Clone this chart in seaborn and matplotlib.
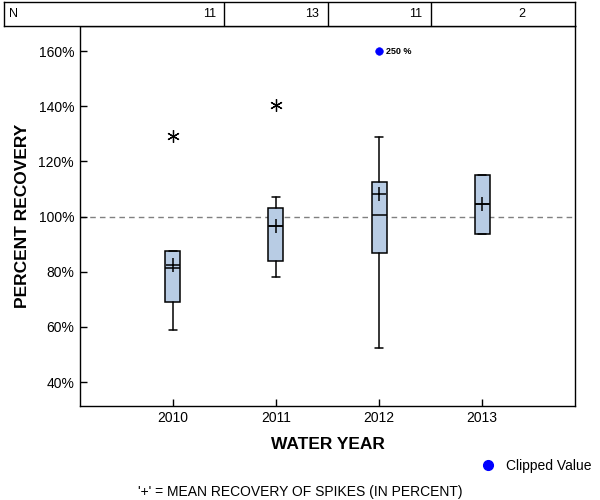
import numpy as np
import matplotlib
matplotlib.use("Agg")
import matplotlib.pyplot as plt
import seaborn as sns
from matplotlib.ticker import FuncFormatter
from matplotlib.lines import Line2D

sns.set_style("ticks")
plt.rcParams['font.family'] = ['Liberation Sans', 'DejaVu Sans']
plt.rcParams['text.color'] = 'black'
plt.rcParams['axes.labelcolor'] = 'black'

# Data
years = ["2010", "2011", "2012", "2013"]
n_counts = [11, 13, 11, 2]
q1 = [68.9, 83.8, 86.7, 93.5]
medians = [81.3, 96.4, 100.5, 104.4]
q3 = [87.4, 103.0, 112.4, 114.9]
whisker_lo = [58.7, 78.0, 52.2, 93.5]
whisker_hi = [87.6, 107.0, 128.9, 114.9]
means = [82.4, 96.4, 108.0, 104.4]
outliers = [[129.2], [140.3], [], []]
clipped_year = "2012"
clipped_value = 250
clipped_shown_at = 160

XLIM = (-0.9, 3.9)
YLIM = (31.3, 169.1)

fig = plt.figure(figsize=(6, 5), dpi=100)
ax = fig.add_axes([80 / 600, 1 - 406 / 500, 495 / 600, 380 / 500])

stats = []
for i, yr in enumerate(years):
    stats.append(dict(label=yr, q1=q1[i], med=medians[i], q3=q3[i],
                      whislo=whisker_lo[i], whishi=whisker_hi[i],
                      mean=means[i], fliers=outliers[i]))

pos = np.arange(len(years))
ax.bxp(stats, positions=pos, widths=0.145, patch_artist=True,
       showmeans=True, showfliers=True,
       boxprops=dict(facecolor="#b8cce4", edgecolor="black", linewidth=1.1),
       medianprops=dict(color="black", linewidth=1.1),
       whiskerprops=dict(color="black", linewidth=1.1),
       capprops=dict(color="black", linewidth=1.1),
       meanprops=dict(marker="+", markeredgecolor="black", markersize=10,
                      markeredgewidth=1.1),
       flierprops=dict(marker=(6, 2, 0), markeredgecolor="black",
                       markersize=9, markeredgewidth=0.9))

# reference line at 100%
ax.axhline(100, color="gray", linestyle=(0, (4, 3)), linewidth=1, zorder=0)

# clipped value
cx = years.index(clipped_year)
sns.scatterplot(x=[cx], y=[clipped_shown_at], color="blue", s=30,
                edgecolor="blue", ax=ax, zorder=5, legend=False)
ax.text(cx + 0.07, clipped_shown_at, f"{clipped_value} %", fontsize=6.5,
        va="center", ha="left", fontweight="bold")

ax.set_xlim(*XLIM)
ax.set_ylim(*YLIM)
ax.set_xticks(pos)
ax.set_xticklabels(years)
ax.set_yticks(np.arange(40, 161, 20))
ax.yaxis.set_major_formatter(FuncFormatter(lambda v, p: f"{v:.0f}%"))
ax.tick_params(axis="both", labelsize=10, direction="in", length=5,
               width=1, colors="black")
ax.tick_params(axis="y", pad=4.3)
ax.tick_params(axis="x", pad=3.4)
for s in ax.spines.values():
    s.set_linewidth(1)
    s.set_color("black")

ax.set_xlabel("WATER YEAR", fontsize=12.5, fontweight="bold", labelpad=8.5)
ax.set_ylabel("PERCENT RECOVERY", fontsize=12.5, fontweight="bold", labelpad=6)

# N table on top
tax = fig.add_axes([4 / 600, 1 - 26 / 500, 571 / 600, 24 / 500])
px = (XLIM[1] - XLIM[0]) / 495
tax.set_xlim(XLIM[0] - 76 * px, XLIM[1])
tax.set_ylim(0, 1)
tax.set_xticks([])
tax.set_yticks([])
for s in tax.spines.values():
    s.set_linewidth(1)
    s.set_color("black")
for b in pos[:-1] + 0.5:
    tax.axvline(b, color="black", linewidth=1)
tax.text(0.008, 0.5, "N", transform=tax.transAxes, fontsize=9,
         va="center", ha="left")
for i, n in enumerate(n_counts):
    tax.text(pos[i] + 0.5 - 0.08, 0.5, str(n), fontsize=9,
             va="center", ha="right")

# legend for clipped value
handle = Line2D([], [], marker="o", color="blue", linestyle="none",
                markersize=7)
fig.legend([handle], ["Clipped Value"], loc="center right",
           bbox_to_anchor=(1.0, 1 - 466 / 500), frameon=False,
           fontsize=10, handletextpad=0.3, borderaxespad=0.2)

fig.text(0.5, 1 - 492 / 500, "'+' = MEAN RECOVERY OF SPIKES (IN PERCENT)",
         ha="center", va="center", fontsize=10)

fig.savefig("out.png", dpi=100)
